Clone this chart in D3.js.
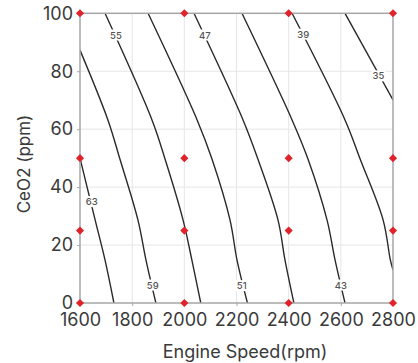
<!DOCTYPE html>
<html>
<head>
<meta charset="utf-8">
<script src="https://cdn.jsdelivr.net/npm/d3@7"></script>
<style>
  html, body { margin: 0; padding: 0; background: #fff; }
  svg { display: block; }
  text { font-family: Inter, Roboto, "Noto Sans", sans-serif; }
</style>
</head>
<body>
<svg id="chart" width="418" height="363"></svg>
<script>
// ---- data ----
const xTicks = [1600, 1800, 2000, 2200, 2400, 2600, 2800];
const yTicks = [0, 20, 40, 60, 80, 100];
const designX = [1600, 2000, 2400, 2800];
const designY = [0, 25, 50, 100];

// contour lines, [rpm, ppm] points
const level63 = [[1600, 50], [1658, 28.7], [1696, 14.8], [1730, 0]];
const level59 = [[1600, 87.3], [1707, 63.2], [1753, 49.7], [1822, 28.7], [1853, 14.8], [1891, 0]];
const level55 = [[1696, 100], [1876, 63.2], [1926, 49.7], [1995, 28.7], [2029, 14.8], [2063, 0]];
const level51 = [[1861, 100], [2049, 63.2], [2106, 49.7], [2175, 28.7], [2202, 14.8], [2242, 0]];
const level47 = [[2037, 100], [2225, 63.2], [2282, 49.7], [2359, 28.7], [2386, 14.8], [2420, 0]];
const level43 = [[2221, 100], [2413, 63.2], [2474, 49.7], [2547, 28.7], [2578, 14.8], [2616, 0]];
const level39 = [[2413, 100], [2616, 63.2], [2674, 49.7], [2762, 28.7], [2790, 14.8], [2800, 11.5]];
const level35 = [[2616, 100], [2800, 70.1]];
const contourLevels = [63, 59, 55, 51, 47, 43, 39, 35];
const contourLines = [level63, level59, level55, level51, level47, level43, level39, level35];

// contour label positions [rpm, ppm, text]
const labelX = [1645, 1879, 1738, 2220, 2079, 2600, 2456, 2744];
const labelY = [35, 6.2, 92.5, 6, 92.5, 6.2, 92.8, 78.4];
const labelText = ["63", "59", "55", "51", "47", "43", "39", "35"];

// ---- chart ----
const svg = d3.select("#chart");
const x = d3.scaleLinear().domain([1600, 2800]).range([80, 393]);
const y = d3.scaleLinear().domain([0, 100]).range([303, 13.3]);

// grid
svg.append("g").selectAll("line").data(xTicks.slice(1, -1)).join("line")
  .attr("x1", d => x(d)).attr("x2", d => x(d))
  .attr("y1", y(0)).attr("y2", y(100))
  .attr("stroke", "#e6e6e6").attr("stroke-width", 1);
svg.append("g").selectAll("line").data(yTicks.slice(1, -1)).join("line")
  .attr("x1", x(1600)).attr("x2", x(2800))
  .attr("y1", d => y(d)).attr("y2", d => y(d))
  .attr("stroke", "#e6e6e6").attr("stroke-width", 1);

// clip
svg.append("clipPath").attr("id", "plotclip").append("rect")
  .attr("x", x(1600)).attr("y", y(100))
  .attr("width", x(2800) - x(1600)).attr("height", y(0) - y(100));

const line = d3.line().x(d => x(d[0])).y(d => y(d[1])).curve(d3.curveCatmullRom.alpha(0.5));
svg.append("g").attr("clip-path", "url(#plotclip)")
  .selectAll("path").data(contourLines).join("path")
  .attr("d", d => line(d))
  .attr("fill", "none").attr("stroke", "#2a2a2a").attr("stroke-width", 1.4);

// contour labels
const lbl = svg.append("g");
labelText.forEach((t, i) => {
  const cx = x(labelX[i]), cy = y(labelY[i]);
  lbl.append("rect").attr("x", cx - 7).attr("y", cy - 5.5).attr("width", 14).attr("height", 11)
    .attr("fill", "#fff");
  lbl.append("text").attr("x", cx).attr("y", cy).attr("text-anchor", "middle")
    .attr("dominant-baseline", "central").attr("font-size", 9.5).attr("font-weight", 500)
    .attr("fill", "#555").text(t);
});

// axes
const xAxis = d3.axisBottom(x).tickValues(xTicks).tickSize(3).tickPadding(7).tickFormat(d3.format("d"));
const yAxis = d3.axisLeft(y).tickValues(yTicks).tickSize(3).tickPadding(4).tickFormat(d3.format("d"));
const gx = svg.append("g").attr("transform", `translate(0,${y(0)})`).call(xAxis);
const gy = svg.append("g").attr("transform", `translate(${x(1600)},0)`).call(yAxis);
[gx, gy].forEach(g => {
  g.select(".domain").remove();
  g.selectAll(".tick line").attr("stroke", "#aaa");
  g.selectAll(".tick text").attr("font-size", 18).attr("fill", "#3a3a3a")
    .attr("font-family", "Inter, Roboto, sans-serif");
});

// frame
svg.append("rect").attr("x", x(1600)).attr("y", y(100))
  .attr("width", x(2800) - x(1600)).attr("height", y(0) - y(100))
  .attr("fill", "none").attr("stroke", "#a6a6a6").attr("stroke-width", 1.5);

// design points
const pts = [];
designX.forEach(a => designY.forEach(b => pts.push([a, b])));
svg.append("g").selectAll("path").data(pts).join("path")
  .attr("transform", d => `translate(${x(d[0])},${y(d[1])})`)
  .attr("d", d3.symbol().type(d3.symbolDiamond2).size(42))
  .attr("fill", "#e0222a");

// titles
svg.append("text").attr("x", 245).attr("y", 358).attr("text-anchor", "middle")
  .attr("font-size", 18).attr("fill", "#3a3a3a").text("Engine Speed(rpm)");
svg.append("text").attr("transform", "translate(30,164) rotate(-90)").attr("text-anchor", "middle")
  .attr("font-size", 17).attr("fill", "#3a3a3a").text("CeO2 (ppm)");
</script>
</body>
</html>
